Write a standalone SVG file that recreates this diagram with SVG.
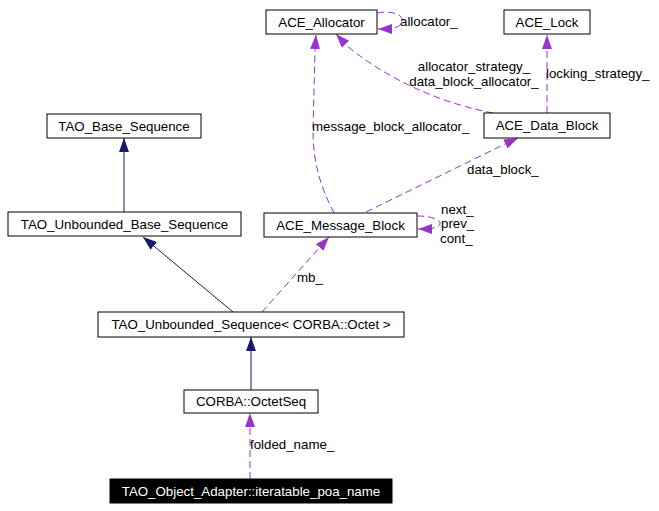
<svg xmlns="http://www.w3.org/2000/svg" width="659" height="511" viewBox="0 0 659 511">
<style>
text{font-family:"Liberation Sans",Helvetica,Arial,sans-serif;font-size:13.3px;fill:#000}
.n rect{fill:#fff;stroke:#000;stroke-width:1}
.n text{text-anchor:middle}
.inh{fill:none;stroke:#191970;stroke-width:1}
.use{fill:none;stroke:#9a32cd;stroke-width:1;stroke-dasharray:7,4}
.lbl{text-anchor:start}
</style>
<defs>
<marker id="aN" viewBox="0 0 14 10" refX="14" refY="5" markerWidth="14" markerHeight="10" markerUnits="userSpaceOnUse" orient="auto"><path d="M0,0 L14,5 L0,10 z" fill="#191970"/></marker>
<marker id="aP" viewBox="0 0 14 10" refX="14" refY="5" markerWidth="14" markerHeight="10" markerUnits="userSpaceOnUse" orient="auto"><path d="M0,0 L14,5 L0,10 z" fill="#9a32cd"/></marker>
</defs>
<rect width="659" height="511" fill="#fff"/>
<g id="connectors">
<path class="inh" d="M124,212 L124,138" marker-end="url(#aN)"/>
<path class="inh" d="M233,312 L143,237" marker-end="url(#aN)"/>
<path class="inh" d="M251,390 L251,337" marker-end="url(#aN)"/>
<path class="use" d="M250,479 L250,413" marker-end="url(#aP)"/>
<path class="use" d="M262,312 L329,237" marker-end="url(#aP)"/>
<path class="use" d="M334,213 C322,190 313,165 313,130 L315,50 L316,35" marker-end="url(#aP)"/>
<path class="use" d="M366,212 L503,145 L518,138" marker-end="url(#aP)"/>
<path class="use" d="M493,113 C450,105 395,85 347,46 L336,34" marker-end="url(#aP)"/>
<path class="use" d="M547,113 L547,35" marker-end="url(#aP)"/>
<path class="use" d="M377,13 C395,10 404,16 402,22 C400,27 395,29 378,29" marker-end="url(#aP)"/>
<path class="use" d="M417,216 C432,216 441,220 440,224 C439,228 432,229 418,229" marker-end="url(#aP)"/>
<text class="lbl" x="400" y="25.5">allocator_</text>
<text x="474" y="71" text-anchor="middle">allocator_strategy_</text>
<text x="474" y="85.5" text-anchor="middle">data_block_allocator_</text>
<text class="lbl" x="546" y="77.5">locking_strategy_</text>
<text class="lbl" x="312" y="130.5">message_block_allocator_</text>
<text class="lbl" x="467" y="173.5">data_block_</text>
<text class="lbl" x="441" y="213.5">next_</text>
<text class="lbl" x="441" y="228">prev_</text>
<text class="lbl" x="440" y="242.5">cont_</text>
<text class="lbl" x="297" y="281.5">mb_</text>
<text class="lbl" x="250" y="449">folded_name_</text>
</g>
<g id="ACE_Allocator" class="n"><rect x="266" y="10" width="111" height="24"/><text x="321.5" y="26.5">ACE_Allocator</text></g>
<g id="ACE_Lock" class="n"><rect x="504" y="10" width="86" height="24"/><text x="547" y="26.5">ACE_Lock</text></g>
<g id="ACE_Data_Block" class="n"><rect x="484" y="113" width="126" height="25"/><text x="547" y="130">ACE_Data_Block</text></g>
<g id="TAO_Base_Sequence" class="n"><rect x="47" y="114" width="154" height="24"/><text x="124" y="130.5">TAO_Base_Sequence</text></g>
<g id="TAO_Unbounded_Base_Sequence" class="n"><rect x="8" y="212" width="233" height="24"/><text x="124.5" y="228.5">TAO_Unbounded_Base_Sequence</text></g>
<g id="ACE_Message_Block" class="n"><rect x="264" y="213" width="153" height="24"/><text x="340.5" y="229.5">ACE_Message_Block</text></g>
<g id="TAO_Unbounded_Sequence" class="n"><rect x="98" y="312" width="306" height="25"/><text x="251" y="329">TAO_Unbounded_Sequence&lt; CORBA::Octet &gt;</text></g>
<g id="CORBA_OctetSeq" class="n"><rect x="184" y="390" width="134" height="23"/><text x="251" y="406">CORBA::OctetSeq</text></g>
<g id="iteratable_poa_name" class="n"><rect x="110" y="479" width="282" height="24" style="fill:#000"/><text x="251" y="495.5" style="fill:#fff">TAO_Object_Adapter::iteratable_poa_name</text></g>
</svg>
